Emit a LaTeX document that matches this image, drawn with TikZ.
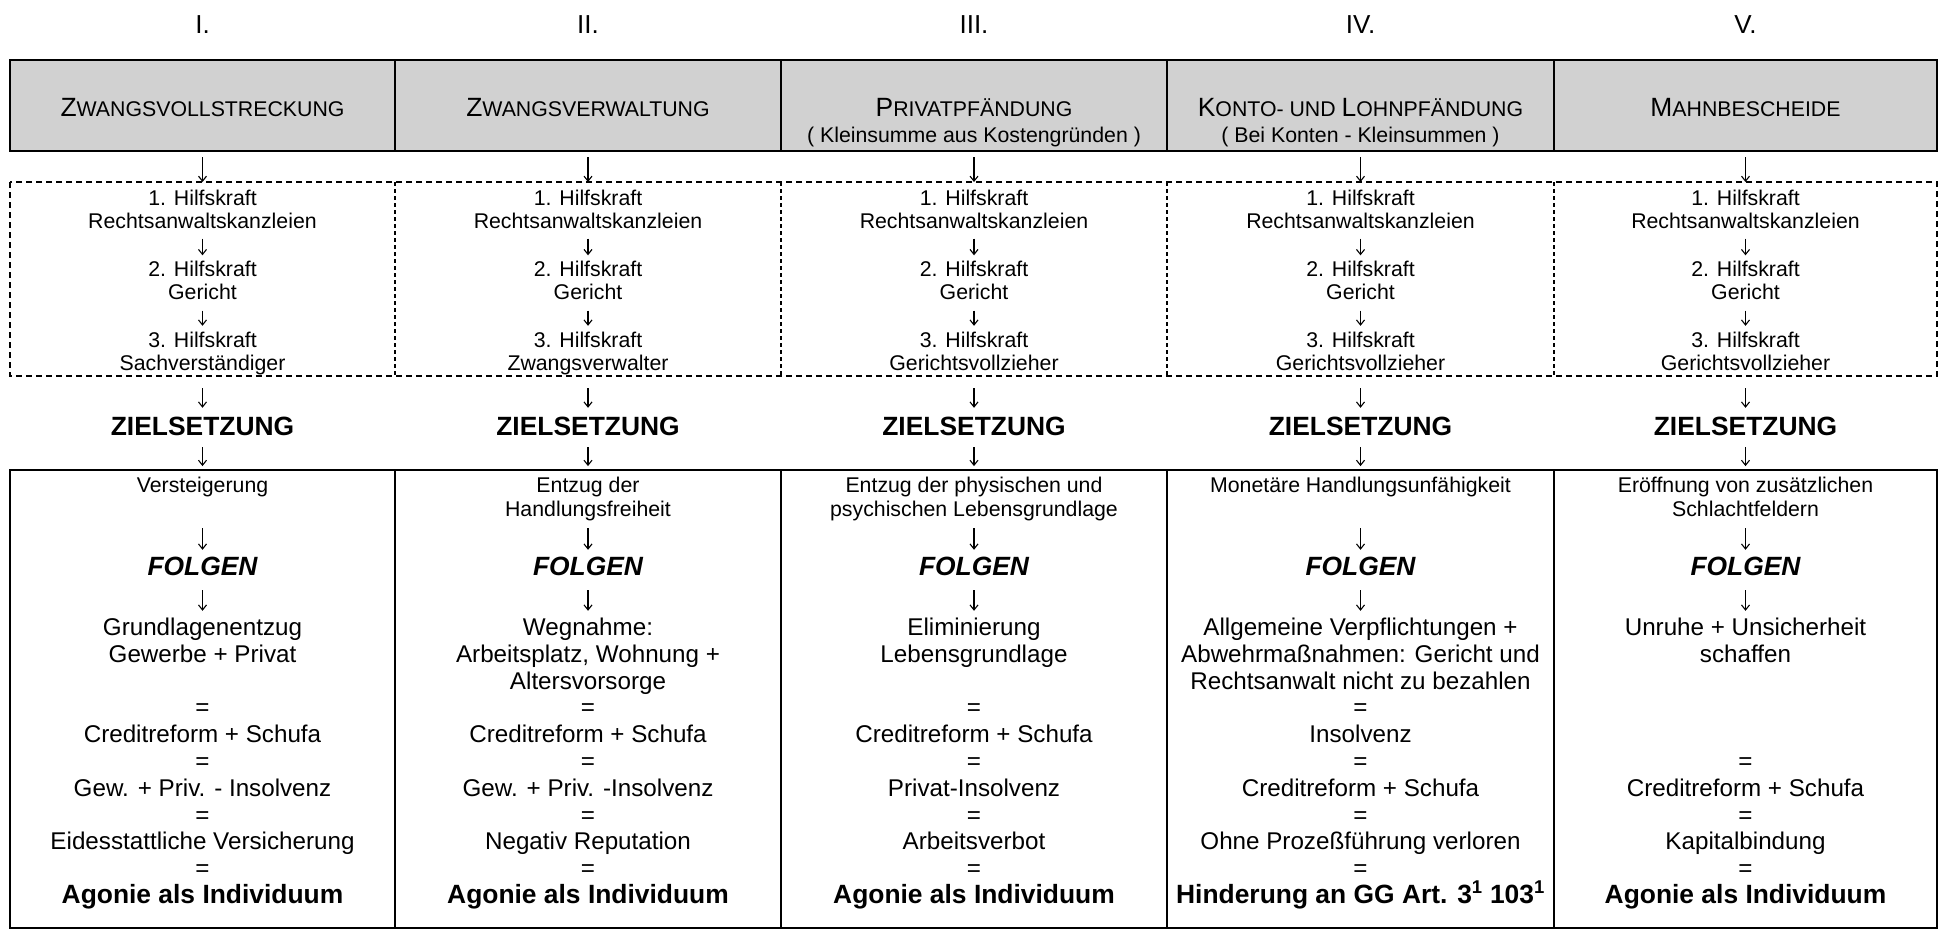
\documentclass[tikz,border=0pt]{standalone}
\usepackage{fontspec}
\setmainfont{Liberation Sans}
\usetikzlibrary{arrows.meta,fit}
\newcommand{\hsc}[2]{{\fontsize{26.4}{30}\selectfont #1}{\fontsize{21.3}{25}\selectfont #2}}
\begin{document}
\begin{tikzpicture}[x=1pt,y=-1pt,
  hcell/.style={draw, line width=2pt, fill=black!18, inner sep=0pt},
  bcell/.style={draw, line width=1.8pt, inner sep=0pt},
  dcell/.style={inner sep=0pt, outer sep=0pt},
  txt/.style={anchor=base, inner sep=0pt, font=\fontsize{21.3}{25}\selectfont, text height=15.5pt, text depth=4.5pt},
  mtxt/.style={anchor=base, inner sep=0pt, font=\fontsize{24.2}{28}\selectfont, text height=17.5pt, text depth=5pt},
  btxt/.style={anchor=base, inner sep=0pt, font=\fontsize{26.4}{30}\selectfont\bfseries, text height=19.5pt, text depth=5.5pt},
  bitxt/.style={anchor=base, inner sep=0pt, font=\fontsize{26.4}{30}\selectfont\bfseries\itshape, text height=19.5pt, text depth=5.5pt},
  num/.style={anchor=base, inner sep=0pt, font=\fontsize{26}{30}\selectfont},
  hd/.style={anchor=base, inner sep=0pt},
  arr/.style={line width=1.1pt, -{Straight Barb[length=5pt,width=8pt]}},
  dframe/.style={line width=1.5pt, dash pattern=on 6pt off 4pt},
  ddiv/.style={line width=1.2pt, dash pattern=on 4pt off 3pt}
]
\useasboundingbox (0,0) rectangle (1939,938);

% cells
\foreach \i/\xl/\xr in {1/10/395,2/395/781,3/781/1167,4/1167/1554,5/1554/1937}{
  \node[hcell, fit={(\xl,60) (\xr,151)}] (hdr\i) {};
  \node[dcell, fit={(\xl,182) (\xr,376)}] (dsh\i) {};
  \node[bcell, fit={(\xl,470) (\xr,928)}] (bot\i) {};
}
\draw[dframe] (dsh1.north west) rectangle (dsh5.south east);
\foreach \i in {1,2,3,4}{
  \draw[ddiv] (dsh\i.north east) -- (dsh\i.south east);
}

% roman numerals
\node[num] (n1) at (202.5,33.5) {I.};
\node[num] (n2) at (588,33.5) {II.};
\node[num] (n3) at (974,33.5) {III.};
\node[num] (n4) at (1360.5,33.5) {IV.};
\node[num] (n5) at (1745.5,33.5) {V.};

% header texts
\node[hd] (h1t) at (202.5,116) {\hsc{Z}{WANGSVOLLSTRECKUNG}};
\node[hd] (h2t) at (588,116) {\hsc{Z}{WANGSVERWALTUNG}};
\node[hd] (h3t) at (974,116) {\hsc{P}{RIVATPFÄNDUNG}};
\node[txt] (h3s) at (974,142) {( Kleinsumme aus Kostengründen )};
\node[hd] (h4t) at (1360.5,116) {\hsc{K}{ONTO- UND }\hsc{L}{OHNPFÄNDUNG}};
\node[txt] (h4s) at (1360.5,142) {( Bei Konten - Kleinsummen )};
\node[hd] (h5t) at (1745.5,116) {\hsc{M}{AHNBESCHEIDE}};

% dashed section texts
\foreach \i/\xc/\last in {1/202.5/Sachverständiger,2/588/Zwangsverwalter,3/974/Gerichtsvollzieher,4/1360.5/Gerichtsvollzieher,5/1745.5/Gerichtsvollzieher}{
  \node[txt] (d\i a) at (\xc,205) {1. Hilfskraft};
  \node[txt] (d\i b) at (\xc,228.5) {Rechtsanwaltskanzleien};
  \node[txt] (d\i c) at (\xc,276.5) {2. Hilfskraft};
  \node[txt] (d\i d) at (\xc,299.5) {Gericht};
  \node[txt] (d\i e) at (\xc,347.5) {3. Hilfskraft};
  \node[txt] (d\i f) at (\xc,370) {\last};
  \node[btxt] (z\i) at (\xc,435) {ZIELSETZUNG};
  \node[bitxt] (f\i) at (\xc,575) {FOLGEN};
  \draw[arr, shorten <=5pt] (hdr\i.south) -- (dsh\i.north);
  \draw[arr, shorten <=5.5pt, shorten >=5.5pt] (d\i b.south) -- (d\i c.north);
  \draw[arr, shorten <=6.5pt, shorten >=6pt] (d\i d.south) -- (d\i e.north);
  \draw[arr, shorten <=12pt, shorten >=7.5pt] (dsh\i.south) -- (z\i.north);
  \draw[arr, shorten <=6.5pt, shorten >=3pt] (z\i.south) -- (bot\i.north);
}

% column 1
\node[txt] (b1a) at (202.5,492.5) {Versteigerung};
\node[mtxt] (r1a) at (202.5,635) {Grundlagenentzug};
\node[mtxt] (r1b) at (202.5,662) {Gewerbe + Privat};
\node[mtxt] (r1c) at (202.5,715) {=};
\node[mtxt] (r1d) at (202.5,742) {Creditreform + Schufa};
\node[mtxt] (r1e) at (202.5,769) {=};
\node[mtxt] (r1f) at (202.5,796) {Gew. + Priv. - Insolvenz};
\node[mtxt] (r1g) at (202.5,823) {=};
\node[mtxt] (r1h) at (202.5,849) {Eidesstattliche Versicherung};
\node[mtxt] (r1i) at (202.5,876) {=};
\node[btxt] (r1j) at (202.5,903) {Agonie als Individuum};
\draw[arr, shorten <=31pt, shorten >=5.5pt] (b1a.south) -- (f1.north);
\draw[arr, shorten <=9.5pt, shorten >=6.5pt] (f1.south) -- (r1a.north);

% column 2
\node[txt] (b2a) at (588,492.5) {Entzug der};
\node[txt] (b2b) at (588,516.5) {Handlungsfreiheit};
\node[mtxt] (r2a) at (588,635) {Wegnahme:};
\node[mtxt] (r2b) at (588,662) {Arbeitsplatz, Wohnung +};
\node[mtxt] (r2c) at (588,689) {Altersvorsorge};
\node[mtxt] (r2d) at (588,715) {=};
\node[mtxt] (r2e) at (588,742) {Creditreform + Schufa};
\node[mtxt] (r2f) at (588,769) {=};
\node[mtxt] (r2g) at (588,796) {Gew. + Priv. -Insolvenz};
\node[mtxt] (r2h) at (588,823) {=};
\node[mtxt] (r2i) at (588,849) {Negativ Reputation};
\node[mtxt] (r2j) at (588,876) {=};
\node[btxt] (r2k) at (588,903) {Agonie als Individuum};
\draw[arr, shorten <=7pt, shorten >=5.5pt] (b2b.south) -- (f2.north);
\draw[arr, shorten <=9.5pt, shorten >=6.5pt] (f2.south) -- (r2a.north);

% column 3
\node[txt] (b3a) at (974,492.5) {Entzug der physischen und};
\node[txt] (b3b) at (974,516.5) {psychischen Lebensgrundlage};
\node[mtxt] (r3a) at (974,635) {Eliminierung};
\node[mtxt] (r3b) at (974,662) {Lebensgrundlage};
\node[mtxt] (r3c) at (974,715) {=};
\node[mtxt] (r3d) at (974,742) {Creditreform + Schufa};
\node[mtxt] (r3e) at (974,769) {=};
\node[mtxt] (r3f) at (974,796) {Privat-Insolvenz};
\node[mtxt] (r3g) at (974,823) {=};
\node[mtxt] (r3h) at (974,849) {Arbeitsverbot};
\node[mtxt] (r3i) at (974,876) {=};
\node[btxt] (r3j) at (974,903) {Agonie als Individuum};
\draw[arr, shorten <=7pt, shorten >=5.5pt] (b3b.south) -- (f3.north);
\draw[arr, shorten <=9.5pt, shorten >=6.5pt] (f3.south) -- (r3a.north);

% column 4
\node[txt] (b4a) at (1360.5,492.5) {Monetäre Handlungsunfähigkeit};
\node[mtxt] (r4a) at (1360.5,635) {Allgemeine Verpflichtungen +};
\node[mtxt] (r4b) at (1360.5,662) {Abwehrmaßnahmen: Gericht und};
\node[mtxt] (r4c) at (1360.5,689) {Rechtsanwalt nicht zu bezahlen};
\node[mtxt] (r4d) at (1360.5,715) {=};
\node[mtxt] (r4e) at (1360.5,742) {Insolvenz};
\node[mtxt] (r4f) at (1360.5,769) {=};
\node[mtxt] (r4g) at (1360.5,796) {Creditreform + Schufa};
\node[mtxt] (r4h) at (1360.5,823) {=};
\node[mtxt] (r4i) at (1360.5,849) {Ohne Prozeßführung verloren};
\node[mtxt] (r4j) at (1360.5,876) {=};
\node[btxt] (r4k) at (1360.5,903) {Hinderung an GG Art. 3\textsuperscript{1} 103\textsuperscript{1}};
\draw[arr, shorten <=31pt, shorten >=5.5pt] (b4a.south) -- (f4.north);
\draw[arr, shorten <=9.5pt, shorten >=6.5pt] (f4.south) -- (r4a.north);

% column 5
\node[txt] (b5a) at (1745.5,492.5) {Eröffnung von zusätzlichen};
\node[txt] (b5b) at (1745.5,516.5) {Schlachtfeldern};
\node[mtxt] (r5a) at (1745.5,635) {Unruhe + Unsicherheit};
\node[mtxt] (r5b) at (1745.5,662) {schaffen};
\node[mtxt] (r5c) at (1745.5,769) {=};
\node[mtxt] (r5d) at (1745.5,796) {Creditreform + Schufa};
\node[mtxt] (r5e) at (1745.5,823) {=};
\node[mtxt] (r5f) at (1745.5,849) {Kapitalbindung};
\node[mtxt] (r5g) at (1745.5,876) {=};
\node[btxt] (r5h) at (1745.5,903) {Agonie als Individuum};
\draw[arr, shorten <=7pt, shorten >=5.5pt] (b5b.south) -- (f5.north);
\draw[arr, shorten <=9.5pt, shorten >=6.5pt] (f5.south) -- (r5a.north);
\end{tikzpicture}
\end{document}
